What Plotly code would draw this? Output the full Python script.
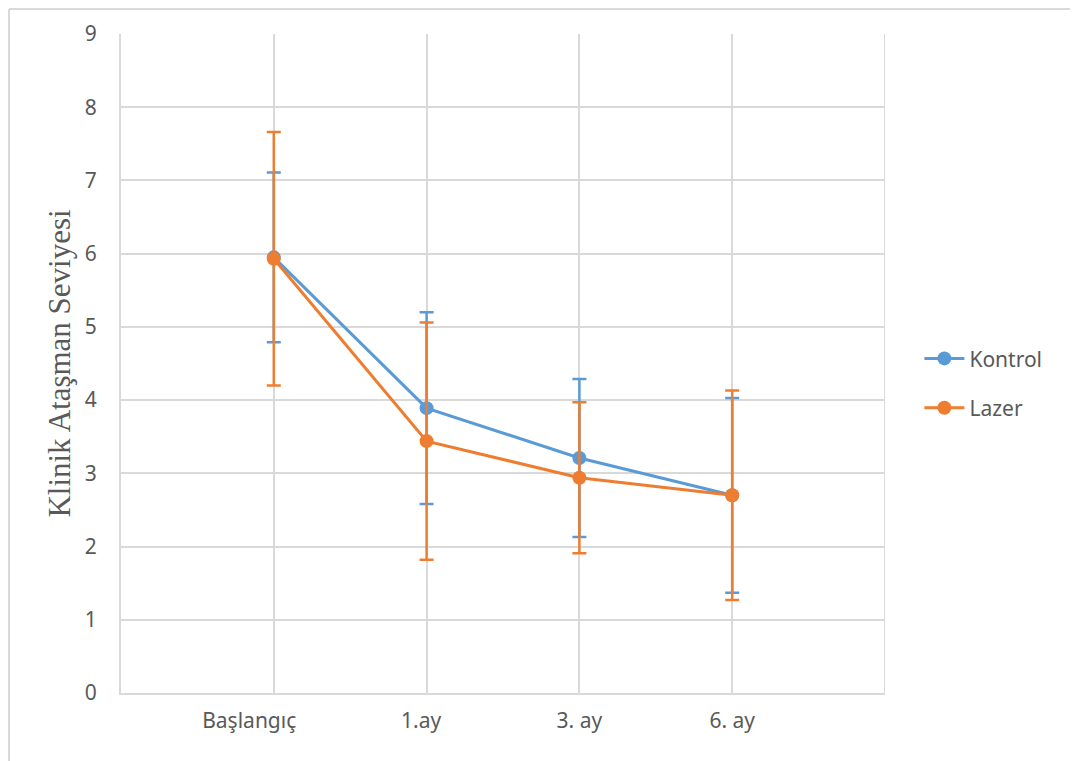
import plotly.graph_objects as go

categories = ["Başlangıç", "1.ay", "3. ay", "6. ay"]
tick_labels = ["Başlangıç" + "\u00a0" * 9, "1.ay" + "\u00a0" * 2, "3. ay", "6. ay"]
kontrol = [5.95, 3.89, 3.21, 2.70]
kontrol_sd = [1.16, 1.31, 1.08, 1.33]
lazer = [5.93, 3.44, 2.94, 2.70]
lazer_sd = [1.73, 1.62, 1.03, 1.43]

xpos = list(range(len(categories)))
blue = "#5B9BD5"
orange = "#ED7D31"

fig = go.Figure()
for name, vals, sd, col in [("Kontrol", kontrol, kontrol_sd, blue), ("Lazer", lazer, lazer_sd, orange)]:
    fig.add_trace(go.Scatter(
        x=xpos, y=vals, name=name, legendgroup=name, mode="lines+markers",
        line=dict(color=col, width=3),
        marker=dict(color=col, size=14),
        error_y=dict(type="data", array=sd, visible=True, color=col, thickness=2.5, width=7),
    ))

W, H = 1070, 753
L, T, R, B = 113, 26, 193, 68
pw, ph = W - L - R, H - T - B

fig.update_layout(
    width=W, height=H,
    margin=dict(l=L, r=R, t=T, b=B, autoexpand=False),
    paper_bgcolor="white", plot_bgcolor="white",
    font=dict(family="Noto Sans, Liberation Sans, sans-serif", size=21, color="#595959"),
    showlegend=True,
    legend=dict(x=1.045, y=0.47, xanchor="left", yanchor="middle",
                font=dict(size=21, color="#595959"), tracegroupgap=19,
                itemwidth=40),
    xaxis=dict(range=[-1, 4], tickmode="array", tickvals=xpos, ticktext=tick_labels,
               showgrid=True, gridcolor="#d9d9d9", gridwidth=2, zeroline=False,
               showline=True, linecolor="#d9d9d9", linewidth=2, ticks="",
               ticklabelstandoff=8, fixedrange=True),
    yaxis=dict(range=[0, 9], dtick=1, showgrid=True, gridcolor="#d9d9d9", gridwidth=2,
               zeroline=False, showline=True, linecolor="#d9d9d9", linewidth=2,
               ticks="", ticklabelstandoff=18,
               title=dict(text="Klinik Ataşman Seviyesi",
                          font=dict(family="Liberation Serif, Times New Roman, serif", size=31, color="#595959"),
                          standoff=5)),
)

# right frame line and outer chart border
fig.add_shape(type="line", xref="x", yref="paper", x0=4, x1=4, y0=0, y1=1,
              line=dict(color="#d9d9d9", width=2))
left_px = (1 - L) / pw
top_py = 1 + (T - 1) / ph
fig.add_shape(type="line", xref="paper", yref="paper", x0=left_px, x1=(W - L) / pw, y0=top_py, y1=top_py,
              line=dict(color="#d9d9d9", width=2))
fig.add_shape(type="line", xref="paper", yref="paper", x0=left_px, x1=left_px, y0=-B / ph, y1=top_py,
              line=dict(color="#d9d9d9", width=2))

fig.write_html("out.html")
